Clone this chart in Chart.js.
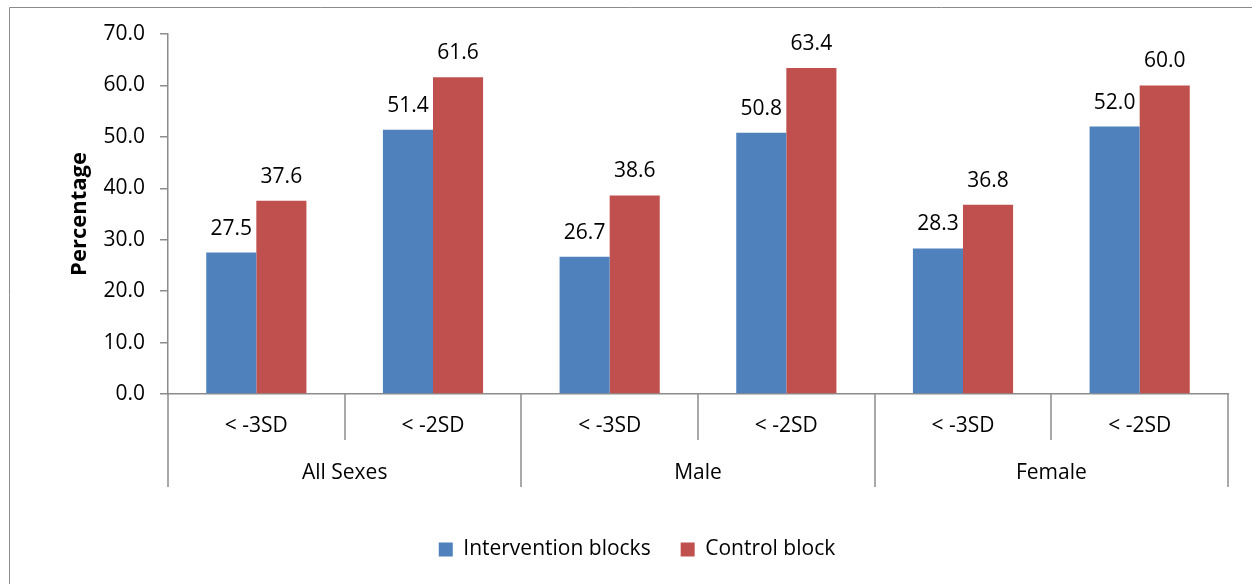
<!DOCTYPE html>
<html>
<head>
<meta charset="utf-8">
<script src="https://cdn.jsdelivr.net/npm/chart.js@4.4.0/dist/chart.umd.min.js"></script>
<style>
  html, body { margin: 0; padding: 0; background: #ffffff; }
  #wrap { width: 1252px; height: 584px; position: relative; }
</style>
</head>
<body>
<div id="wrap"><canvas id="chart" width="1252" height="584"></canvas></div>
<script>
// Sub-categories along the x axis and the sex groups they belong to
const categories = ['< -3SD', '< -2SD', '< -3SD', '< -2SD', '< -3SD', '< -2SD'];
const groups = ['All Sexes', 'Male', 'Female'];
const seriesNames = ['Intervention blocks', 'Control block'];

// Prevalence (%) per sub-category
const intervention = [27.5, 51.4, 26.7, 50.8, 28.3, 52.0];
const control = [37.6, 61.6, 38.6, 63.4, 36.8, 60.0];

// Y axis
const yMin = 0;
const yMax = 70;
const yStep = 10;
const yTitle = 'Percentage';

const FONT = "'Open Sans', 'Noto Sans', sans-serif";
const FONT_SIZE = 21;
const AXIS_GREY = '#8c8c8c';

Chart.defaults.font.family = FONT;
Chart.defaults.color = '#000000';

// Thin frame along the top and left edges of the canvas
const framePlugin = {
  id: 'frame',
  beforeDraw(chart) {
    const ctx = chart.ctx;
    ctx.save();
    ctx.strokeStyle = AXIS_GREY;
    ctx.lineWidth = 1;
    ctx.beginPath();
    ctx.moveTo(9.5, chart.height);
    ctx.lineTo(9.5, 7.5);
    ctx.lineTo(chart.width, 7.5);
    ctx.stroke();
    ctx.restore();
  }
};

// Value labels above each bar
const valueLabelPlugin = {
  id: 'valueLabels',
  afterDatasetsDraw(chart) {
    const ctx = chart.ctx;
    ctx.save();
    ctx.font = FONT_SIZE + 'px ' + FONT;
    ctx.fillStyle = '#000000';
    ctx.textAlign = 'center';
    ctx.textBaseline = 'alphabetic';
    chart.data.datasets.forEach((ds, di) => {
      const meta = chart.getDatasetMeta(di);
      meta.data.forEach((bar, i) => {
        ctx.fillText(ds.data[i].toFixed(1), bar.x, bar.y - 18);
      });
    });
    ctx.restore();
  }
};

// Two-level category axis: divider lines and group names
const groupAxisPlugin = {
  id: 'groupAxis',
  afterDraw(chart) {
    const xs = chart.scales.x;
    const ctx = chart.ctx;
    const n = categories.length;
    const w = (xs.right - xs.left) / n;
    const y0 = xs.top;
    ctx.save();
    ctx.strokeStyle = AXIS_GREY;
    ctx.lineWidth = 1.5;
    for (let i = 0; i <= n; i++) {
      const x = Math.round(xs.getPixelForValue(Math.min(i, n - 1)) + (i === n ? w / 2 : -w / 2));
      const len = (i % 2 === 0) ? 93 : 46;
      ctx.beginPath();
      ctx.moveTo(x, y0);
      ctx.lineTo(x, y0 + len);
      ctx.stroke();
    }
    ctx.font = FONT_SIZE + 'px ' + FONT;
    ctx.fillStyle = '#000000';
    ctx.textAlign = 'center';
    ctx.textBaseline = 'middle';
    groups.forEach((g, gi) => {
      const cx = (xs.getPixelForValue(gi * 2) + xs.getPixelForValue(gi * 2 + 1)) / 2;
      ctx.fillText(g, cx, y0 + 79);
    });
    ctx.restore();
  }
};

new Chart(document.getElementById('chart'), {
  type: 'bar',
  data: {
    labels: categories,
    datasets: [
      {
        label: seriesNames[0],
        data: intervention,
        backgroundColor: '#4f81bd',
        borderWidth: 0,
        categoryPercentage: 0.567,
        barPercentage: 1.0
      },
      {
        label: seriesNames[1],
        data: control,
        backgroundColor: '#c0504d',
        borderWidth: 0,
        categoryPercentage: 0.567,
        barPercentage: 1.0
      }
    ]
  },
  options: {
    responsive: false,
    animation: false,
    events: [],
    layout: { padding: { left: 46, right: 24, top: 34, bottom: 14 } },
    plugins: {
      legend: {
        position: 'bottom',
        labels: {
          boxWidth: 14,
          boxHeight: 14,
          padding: 30,
          color: '#000000',
          font: { size: FONT_SIZE, family: FONT }
        }
      },
      tooltip: { enabled: false }
    },
    scales: {
      x: {
        type: 'category',
        offset: true,
        afterFit(scale) { scale.height = 115; },
        grid: { display: false, drawTicks: false },
        border: { display: true, color: AXIS_GREY, width: 1.5 },
        ticks: {
          padding: 19,
          color: '#000000',
          font: { size: FONT_SIZE, family: FONT },
          maxRotation: 0,
          autoSkip: false
        }
      },
      y: {
        min: yMin,
        max: yMax,
        afterFit(scale) { scale.width = 122; },
        grid: {
          drawOnChartArea: false,
          drawTicks: true,
          tickLength: 8,
          color: AXIS_GREY,
          lineWidth: 1.5
        },
        border: { display: true, color: AXIS_GREY, width: 1.5 },
        ticks: {
          stepSize: yStep,
          padding: 15,
          color: '#000000',
          font: { size: FONT_SIZE, family: FONT },
          callback: (v) => Number(v).toFixed(1)
        },
        title: {
          display: true,
          text: yTitle,
          color: '#000000',
          font: { size: 22, weight: 'bold', family: FONT },
          padding: { top: 21, bottom: 0 }
        }
      }
    }
  },
  plugins: [framePlugin, valueLabelPlugin, groupAxisPlugin]
});
</script>
</body>
</html>
